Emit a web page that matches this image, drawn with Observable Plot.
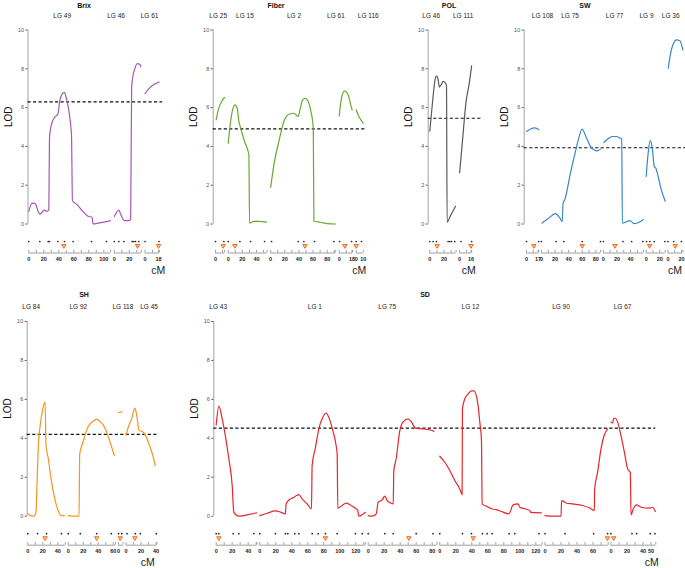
<!DOCTYPE html>
<html><head><meta charset="utf-8">
<script src="https://cdn.jsdelivr.net/npm/d3@7"></script>
<script src="https://cdn.jsdelivr.net/npm/@observablehq/plot@0.6"></script>
<style>
body{margin:0;background:#fff;font-family:"Liberation Sans",Arial,sans-serif;}
#chart{position:relative;width:685px;height:568px;overflow:hidden;background:#fff;}
.ttl{position:absolute;font-weight:bold;font-size:7px;color:#111;transform:translate(-50%,-50%);white-space:nowrap;}
</style></head><body><div id="chart"></div>
<script>
// ================= DATA =================
// ---- Brix ----
const brixLGs = ["LG 49", "LG 46", "LG 61"];
const brixLengths = [109, 36, 19];
const brixLabelAt = [44.5, 2.3, 6];
const brixTickLabels = [[0,20,40,60,80,100],[0,20],[0,18]];
const brixThreshold = 6.3;
const brixQTL = [46.7, 31, 18];
const brixMarkers = [[0,14.7,25.8,27.6,38.7,47.6,59.1,83.6,103.6],[0,6,12.7,23.8,26,28.3,32.7],[0,18.5]];
const brixLOD = [
 [[0,0.65],[4.4,1.08],[8,1.06],[14.7,0.51],[20.9,0.72],[24.4,0.65],[26.7,0.74],[27.6,4.46],[29.8,5.06],[34.2,5.49],[38.7,5.66],[41.3,6.35],[44.4,6.69],[47.6,6.78],[49.8,6.52],[56.9,4.63],[58.2,1.2],[64.4,1.0],[71.1,0.69],[77.8,0.43],[84.4,0.34],[85.8,0.0],[91.1,0.03],[108.9,0.17]],
 [[0,0.39],[6.2,0.72],[8.4,0.51],[13.8,0.17],[19.6,0.17],[21.8,0.26],[23.1,7.03],[24.9,7.63],[27.1,7.98],[30.7,8.27],[33.8,8.23],[35.5,8.11]],
 [[0,6.72],[5.7,7.0],[12.2,7.2],[18.7,7.32]]
];
// ---- Fiber ----
const fiberLGs = ["LG 25","LG 15","LG 2","LG 61","LG 116"];
const fiberLengths = [13,55,92,19,10];
const fiberLabelAt = [3.8,23.6,33,-4.7,17];
const fiberTickLabels = [[0],[0,20,40],[0,20,40,60,80],[0,18],[0,10]];
const fiberThreshold = 4.9;
const fiberQTL = [10.8,9.4,48.5,8,0];
const fiberMarkers = [[0,11.8],[0,16.5,31.6,51.4],[1.3,39,47,62.1,89.5],[0.5,17.5],[0,7.5]];
const fiberLOD = [
 [[0.9,5.37],[4.7,5.97],[9.4,6.36],[12.7,6.52]],
 [[0,4.17],[3.3,5.28],[7.1,6.0],[9.4,6.14],[12.7,5.97],[15.1,5.28],[16.5,5.08],[23.1,4.25],[29.2,3.57],[30.2,0.05],[36.3,0.14],[43.4,0.14],[54.2,0.1]],
 [[0,1.89],[4.6,3.05],[11.6,4.25],[18.7,5.28],[25.8,5.66],[32.9,5.71],[39,5.54],[41.4,5.88],[44.7,6.35],[48.5,6.48],[51.8,6.4],[56.5,5.88],[60.3,4.94],[61.2,0.14],[70.6,0.09],[80.1,0.02],[91.9,0]],
 [[0,5.57],[2.8,6.4],[7.5,6.86],[12.3,6.69],[17.5,5.97],[18.4,5.88]],
 [[0,5.88],[3.8,5.54],[9.9,5.2]]
];
// ---- POL ----
const polLGs = ["LG 46","LG 111"];
const polLengths = [37,17];
const polLabelAt = [2,5];
const polTickLabels = [[0,20],[0,16]];
const polThreshold = 5.45;
const polQTL = [10.3,16];
const polMarkers = [[0,4.7,9.4,25.8,28.2,30.5,35.2],[1.9,16.9]];
const polLOD = [
 [[0,4.79],[3.3,6.07],[5.6,6.92],[7,7.35],[9.4,7.64],[11.3,7.52],[13.6,7.06],[16,7.18],[18.8,7.35],[22.1,7.26],[23.5,7.13],[24.4,0.09],[29.1,0.43],[36.2,0.91]],
 [[0,2.65],[4.2,4.36],[8.9,6.24],[13.6,7.26],[16.9,8.15]]
];
// ---- SW ----
const swLGs = ["LG 108","LG 75","LG 77","LG 9","LG 36"];
const swLengths = [18,87,59,28,22];
const swLabelAt = [23.5,42,16.6,0.5,4];
const swTickLabels = [[0,17],[0,20,40,60,80],[0,20,40],[0,20],[0,20]];
const swThreshold = 3.93;
const swQTL = [10.8,60,17,5,10.7];
const swMarkers = [[0,18],[0,21.6,32.8,60,86.8],[0,29,41.6,58],[0.5,5.4,11.8,27.4],[0,8.4,19.7]];
const swLOD = [
 [[0,4.77],[5.9,4.9],[11.8,4.96],[15.7,4.92],[18.1,4.85]],
 [[1,0.05],[10.8,0.31],[20.6,0.53],[27,0.31],[30.4,0.14],[31.9,1.08],[34.3,1.25],[42.6,2.62],[50,3.74],[54.9,4.43],[59.8,4.89],[66.2,4.43],[73,3.95],[77,3.83],[81.9,3.77],[86.8,3.86]],
 [[0.8,4.2],[6.9,4.39],[13.2,4.51],[19.6,4.51],[24.5,4.43],[27,4.39],[28,0.05],[32.8,0.1],[39.2,0.17],[45.1,0.02],[50,0.05],[58.8,0.22]],
 [[0,2.45],[2.9,3.65],[5.9,4.31],[9.3,3.82],[11.8,2.97],[14.2,2.88],[17.6,2.45],[21.6,1.85],[28,1.17]],
 [[0.5,8.03],[3.9,8.8],[7.8,9.28],[12.7,9.49],[17.6,9.45],[22,8.97]]
];
// ---- SH ----
const shLGs = ["LG 84","LG 92","LG 118","LG 45"];
const shLengths = [50,63,6,41];
const shLabelAt = [4.5,13.3,5.7,30.7];
const shTickLabels = [[0,20,40],[0,20,40,60],[0],[0,20,40]];
const shThreshold = 4.2;
const shQTL = [23,37.8,2.2,11.7];
const shMarkers = [[0,13,25,44.8],[0,16,37.8,57.4],[0,4.3],[1.3,12.4,19.1,40.4]];
const shLOD = [
 [[0,0.12],[3.5,0.03],[7.8,0],[10.9,0.2],[12.2,1.58],[14.3,3.8],[16.5,4.66],[20,5.51],[23,5.86],[24.3,3.63],[27.4,2.95],[31.7,1.75],[36,0.89],[40.4,0.29],[44.8,0.03],[49,0.03]],
 [[0,0.03],[6.5,0],[14.3,0],[15.2,3.2],[19.6,3.8],[26,4.57],[32.6,4.86],[37.8,4.97],[43.5,4.83],[49,4.52],[54.3,3.97],[61.3,3.12]],
 [[0,5.34],[2.2,5.32],[4.3,5.38]],
 [[0,4.18],[3,4.57],[7.4,5.0],[11.7,5.55],[13.9,5.26],[17.4,4.4],[21.7,4.35],[26,4.14],[31.3,3.63],[35.7,3.12],[38.7,2.6]]
];
// ---- SD ----
const sdLGs = ["LG 43","LG 1","LG 75","LG 12","LG 90","LG 67"];
const sdLengths = [51,132,86,128,79,56];
const sdLabelAt = [2.5,68.8,23.7,38.3,20,14.5];
const sdTickLabels = [[0,20,40],[0,20,40,60,80,100,120],[0,20,40,60,80],[0,20,40,60,80,100,120],[0,20,40,60],[0,20,40,50]];
const sdThreshold = 4.52;
const sdQTL = [3.3,82,50.8,41.7,78,3.3];
const sdMarkers = [[0,3.3,21.3,28.3,47],[0,19.6,32,35,43.75,48.8,65.5,73,82,96.7,119.6,128],[0,20.8,31.25,60,81],[0,28.3,39.6,53.3,59.2,65.4,86.7,93.75,124],[0,25,60.8,78.3],[0,26.25,32,49,55]];
const sdLOD = [
 [[0,4.69],[3.3,5.65],[7.5,5.0],[11.7,4.06],[15.8,2.95],[20,1.58],[22,0.21],[26.3,0.03],[30.4,0],[38.8,0.07],[50.4,0.17]],
 [[0,0.03],[9.2,0.15],[19.6,0.27],[25.8,0.21],[32,0.12],[32.9,0.63],[38.3,0.89],[42.5,0.96],[45.8,1.06],[48.8,1.11],[52.9,0.89],[59.2,0.63],[64.6,0.38],[65.4,2.6],[69.6,3.54],[73.8,4.49],[77.9,5.0],[82.9,5.29],[87,5.0],[91.3,4.4],[95.4,3.63],[96.7,3.2],[97.5,0.41],[102.9,0.55],[107.9,0.67],[113.3,0.58],[119.6,0.41],[122.5,0.29],[123.8,0],[127.9,0.07],[132,0.2]],
 [[0,0.03],[5,0],[10,0.12],[12.5,0.72],[17.5,0.84],[20.8,1.03],[23.75,0.8],[27.9,0.68],[31.3,0.63],[32,2.35],[35,2.95],[39.2,4.32],[43.3,4.83],[49.6,5.0],[54.2,4.83],[59.2,4.52],[67.5,4.49],[80,4.4],[82,4.35]],
 [[0,3.08],[6.25,2.77],[12.5,2.35],[18.75,1.83],[25,1.4],[27.9,1.11],[28.3,5.51],[31.25,6.03],[35.4,6.28],[39.6,6.44],[42.9,6.44],[45,6.28],[47.9,5.68],[50,4.83],[52.1,3.89],[52.9,0.63],[58.3,0.51],[64.6,0.38],[70.8,0.34],[77.1,0.24],[86.25,0.12],[91.7,0.58],[97.9,0.63],[100,0.46],[106.25,0.38],[112.5,0.29],[113.75,0.2],[126.9,0.17]],
 [[0,0.03],[9.6,0],[20,0],[20.8,0.8],[26.25,0.68],[34.6,0.63],[47.1,0.55],[55.4,0.43],[61.7,0.29],[62.1,1.4],[65.8,2.26],[70,3.46],[74.2,4.18],[78.3,4.49]],
 [[0,4.83],[2.1,4.78],[3.3,5.03],[5.4,5.03],[8.3,4.83],[12.5,4.14],[16.7,3.29],[20.8,2.43],[24.2,2.23],[25,0.07],[27.9,0.38],[32,0.58],[37.5,0.46],[47.9,0.41],[52,0.46],[55.4,0.24]]
];

// ================= LAYOUT & STYLE =================
const FONT = '"Liberation Sans", Arial, Helvetica, sans-serif';
const TOP = {top:0, height:280, y10:29.5, y0:223.5, titleY:4.5};
const BOT = {top:285, height:283, y10:36, y0:230.7, titleY:9.3};

const panels = [
 {title:"Brix", row:TOP, left:0, width:175, axisPx:27.5, x0:28.3, ppc:0.75, gap:5, endPad:4.5, titleX:84, cmDx:-1, color:"#a458b7",
  lgs:brixLGs, lengths:brixLengths, labelAt:brixLabelAt, ticks:brixTickLabels, thr:brixThreshold, qtl:brixQTL, markers:brixMarkers, lod:brixLOD},
 {title:"Fiber", row:TOP, left:185, width:190, axisPx:212.7, x0:215, ppc:0.707, gap:5, endPad:5.5, titleX:276, cmDx:-4, color:"#6aa82f",
  lgs:fiberLGs, lengths:fiberLengths, labelAt:fiberLabelAt, ticks:fiberTickLabels, thr:fiberThreshold, qtl:fiberQTL, markers:fiberMarkers, lod:fiberLOD},
 {title:"POL", row:TOP, left:400, width:90, axisPx:427.7, x0:429.3, ppc:0.71, gap:5, endPad:13, titleX:449, cmDx:-3, color:"#5a5a5a",
  lgs:polLGs, lengths:polLengths, labelAt:polLabelAt, ticks:polTickLabels, thr:polThreshold, qtl:polQTL, markers:polMarkers, lod:polLOD},
 {title:"SW", row:TOP, left:496, width:189, axisPx:523.7, x0:526, ppc:0.68, gap:4, endPad:3.8, titleX:585, cmDx:-8, color:"#3b86c8",
  lgs:swLGs, lengths:swLengths, labelAt:swLabelAt, ticks:swTickLabels, thr:swThreshold, qtl:swQTL, markers:swMarkers, lod:swLOD},
 {title:"SH", row:BOT, left:0, width:175, axisPx:26.7, x0:27.3, ppc:0.75, gap:4, endPad:2.7, titleX:84, cmDx:-9, color:"#f7941d",
  lgs:shLGs, lengths:shLengths, labelAt:shLabelAt, ticks:shTickLabels, thr:shThreshold, qtl:shQTL, markers:shMarkers, lod:shLOD},
 {title:"SD", row:BOT, left:185, width:500, axisPx:213.3, x0:215.7, ppc:0.8, gap:3.5, endPad:0, titleX:425, cmDx:-4, color:"#e8262a",
  lgs:sdLGs, lengths:sdLengths, labelAt:sdLabelAt, ticks:sdTickLabels, thr:sdThreshold, qtl:sdQTL, markers:sdMarkers, lod:sdLOD}
];

const chart = document.getElementById("chart");

function drawPanel(p) {
  const R = p.row;
  const offs = []; let acc = 0;
  p.lengths.forEach((len, i) => { offs.push(acc); acc += len + (i < p.lengths.length - 1 ? p.gap : 0); });
  const total = acc;
  const xmin = -(p.x0 - p.axisPx) / p.ppc;
  const xmax = total + p.endPad;
  const rangeL = p.axisPx - p.left;
  const rangeR = rangeL + (xmax - xmin) * p.ppc;
  const ypu = (R.y0 - R.y10) / 10;
  const markY = -17.5 / ypu, triY = -21.8 / ypu, baseY = -29 / ypu, tickTop = baseY + 2.6 / ypu,
        labY = -35 / ypu, cmY = -46.5 / ypu, lgY = 10 + 14.5 / ypu;

  const curveRows = [];
  p.lod.forEach((pts, i) => pts.forEach(([c, v]) => curveRows.push({x: offs[i] + c, y: v, lg: i})));
  const markerRows = [];
  p.markers.forEach((ms, i) => ms.forEach(c => markerRows.push({x: offs[i] + c, y: markY})));
  const qtlRows = p.qtl.map((c, i) => ({x: offs[i] + c, y: triY}));
  const lgRows = p.lgs.map((name, i) => ({name, start: offs[i], end: offs[i] + p.lengths[i], base: baseY, lx: offs[i] + p.labelAt[i], ly: lgY}));
  const tickRows = [], tickLabelRows = [];
  p.lengths.forEach((len, i) => {
    const set = new Set();
    for (let t = 0; t <= len; t += 10) set.add(t);
    p.ticks[i].forEach(t => set.add(t));
    set.add(len);
    [...set].forEach(t => tickRows.push({x: offs[i] + t, y1: baseY, y2: tickTop}));
    p.ticks[i].forEach(t => tickLabelRows.push({x: offs[i] + t, y: labY, text: String(t)}));
  });

  const svg = Plot.plot({
    width: p.width, height: R.height,
    marginLeft: rangeL, marginRight: p.width - rangeR,
    marginTop: R.y10, marginBottom: R.height - R.y0,
    x: {domain: [xmin, xmax], axis: null},
    y: {domain: [0, 10], axis: null},
    style: {fontFamily: FONT, background: "transparent", overflow: "visible"},
    marks: [
      Plot.ruleX([xmin], {y1: 0, y2: 10, stroke: "#999", strokeWidth: 0.9}),
      Plot.axisY({ticks: [0,2,4,6,8,10], tickSize: 2, tickPadding: 2, fontSize: 5.5, color: "#555", label: null}),
      Plot.text(["LOD"], {frameAnchor: "left", rotate: -90, dx: -19, fontSize: 10, fill: "#111"}),
      Plot.ruleY([p.thr], {stroke: "#111", strokeWidth: 1.2, strokeDasharray: "3.2,2.3"}),
      Plot.line(curveRows, {x: "x", y: "y", z: "lg", stroke: p.color, strokeWidth: 1.2, curve: "monotone-x"}),
      Plot.text(lgRows, {x: "lx", y: "ly", text: "name", fontSize: 6.5, fill: "#222"}),
      Plot.dot(markerRows, {x: "x", y: "y", r: 0.85, fill: "#222"}),
      Plot.dot(qtlRows, {x: "x", y: "y", symbol: "triangle2", rotate: 180, r: 2.1, fill: "#ffd54a", stroke: "#f0592a", strokeWidth: 0.9}),
      Plot.ruleY(lgRows, {y: "base", x1: "start", x2: "end", stroke: "#888", strokeWidth: 0.8}),
      Plot.ruleX(tickRows, {x: "x", y1: "y1", y2: "y2", stroke: "#888", strokeWidth: 0.8}),
      Plot.text(tickLabelRows, {x: "x", y: "y", text: "text", fontSize: 5.5, fill: "#222", fontWeight: "bold"}),
      Plot.text(["cM"], {x: total, y: cmY, text: d => d, dx: p.cmDx, fontSize: 10.5, fill: "#222"})
    ]
  });
  svg.style.position = "absolute";
  svg.style.left = p.left + "px";
  svg.style.top = R.top + "px";
  svg.style.maxWidth = "none";
  chart.appendChild(svg);

  const t = document.createElement("div");
  t.className = "ttl";
  t.textContent = p.title;
  t.style.left = p.titleX + "px";
  t.style.top = (R.top + R.titleY) + "px";
  chart.appendChild(t);
}

panels.forEach(drawPanel);
</script>
</body></html>
